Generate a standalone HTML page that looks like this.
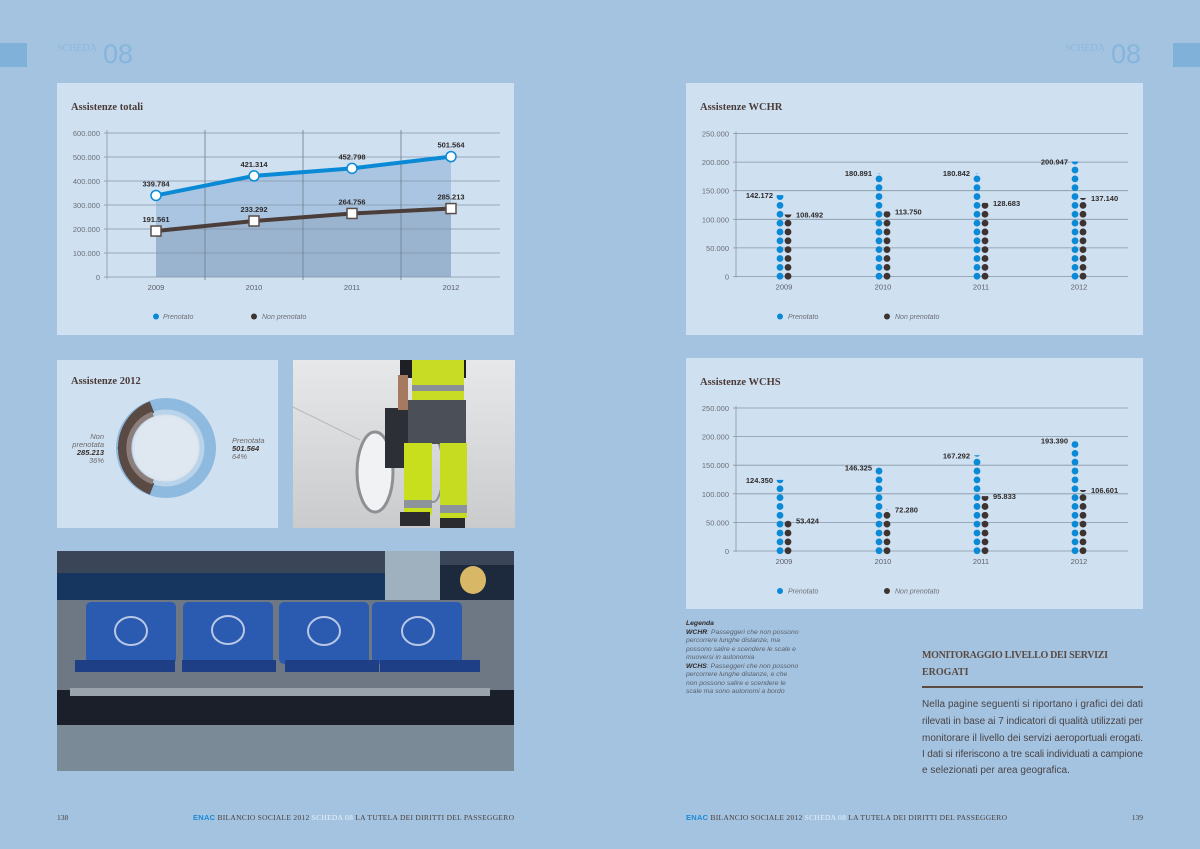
<!DOCTYPE html>
<html><head><meta charset="utf-8">
<style>
html,body{margin:0;padding:0;background:#a3c3e1;}
svg{display:block;}
text{font-family:"Liberation Sans",sans-serif;}
text.ser,.ser text,.ser tspan{font-family:"Liberation Serif",serif;}
tspan.sans{font-family:"Liberation Sans",sans-serif;}
</style></head>
<body>
<svg id="s" width="1200" height="849" viewBox="0 0 1200 849" xmlns="http://www.w3.org/2000/svg">
<rect width="1200" height="849" fill="#a3c3e1"/>
<!-- headers -->
<rect x="0" y="43" width="27" height="24" fill="#80b1d9"/>
<rect x="1173" y="43" width="27" height="24" fill="#80b1d9"/>
<text x="57" y="51" class="ser" font-size="10" fill="#8db7db">SCHEDA</text>
<text x="103" y="63" font-size="27" fill="#86b5dc">08</text>
<text x="1065" y="51" class="ser" font-size="10" fill="#8db7db">SCHEDA</text>
<text x="1111" y="63" font-size="27" fill="#86b5dc">08</text>

<!-- Panel 1 -->
<rect x="57" y="83" width="457" height="252" fill="#cfe0f1"/>
<text x="71" y="110" class="ser" font-size="10.5" font-weight="bold" fill="#4a3c38">Assistenze totali</text>
<g id="c1"></g>

<!-- WCHR -->
<rect x="686" y="83" width="457" height="252" fill="#cfe0f1"/>
<text x="700" y="110" class="ser" font-size="10.5" font-weight="bold" fill="#4a3c38">Assistenze WCHR</text>
<g id="c2"></g>
<!-- WCHS -->
<rect x="686" y="358" width="457" height="251" fill="#cfe0f1"/>
<text x="700" y="385" class="ser" font-size="10.5" font-weight="bold" fill="#4a3c38">Assistenze WCHS</text>
<g id="c3"></g>

<!-- Donut -->
<rect x="57" y="360" width="221" height="168" fill="#cfe0f1"/>
<text x="71" y="384" class="ser" font-size="10.5" font-weight="bold" fill="#4a3c38">Assistenze 2012</text>
<defs>
<radialGradient id="dg" cx="50%" cy="50%" r="50%">
<stop offset="0.7" stop-color="#dfe8f1"/><stop offset="1" stop-color="#b9cbdc"/>
</radialGradient>
</defs>
<circle cx="166" cy="448" r="44" fill="url(#dg)"/>
<circle cx="166" cy="448" r="44" fill="none" stroke="#8fbadf" stroke-width="12"/>
<circle cx="166" cy="448" r="36" fill="none" stroke="#b9d3ea" stroke-width="5"/>
<path d="M152 407 A44 44 0 0 0 152 489" fill="none" stroke="#5a4a44" stroke-width="12"/>
<path d="M153 414 A36 36 0 0 0 153 482" fill="none" stroke="#8c7f7b" stroke-width="5"/>
<polygon points="117,448 122,444 122,452" fill="#5a4a44"/>
<polygon points="215,448 210,444 210,452" fill="#8fbadf"/>
<g font-size="7.5" font-style="italic" fill="#6e6a6a" text-anchor="end">
<text x="104" y="439">Non</text><text x="104" y="447">prenotata</text>
<text x="104" y="455" font-weight="bold" fill="#3a302c">285.213</text><text x="104" y="463">36%</text>
</g>
<g font-size="7.5" font-style="italic" fill="#6e6a6a">
<text x="232" y="443">Prenotata</text>
<text x="232" y="451" font-weight="bold" fill="#3a302c">501.564</text><text x="232" y="459">64%</text>
</g>

<!-- Photo 1: worker -->
<defs>
<linearGradient id="fl" x1="0" y1="0" x2="0" y2="1"><stop offset="0" stop-color="#e6e8ea"/><stop offset="1" stop-color="#c9cbcc"/></linearGradient>
</defs>
<rect x="293" y="360" width="222" height="168" fill="url(#fl)"/>
<line x1="293" y1="407" x2="360" y2="440" stroke="#b8babb" stroke-width="1"/>
<ellipse cx="375" cy="472" rx="18" ry="40" fill="#f1f2f4" stroke="#8d9094" stroke-width="3"/>
<ellipse cx="433" cy="470" rx="10" ry="32" fill="none" stroke="#8d9094" stroke-width="2"/>
<rect x="385" y="408" width="35" height="60" fill="#2c2f36"/>
<rect x="400" y="360" width="66" height="18" fill="#1d1f25"/>
<rect x="412" y="360" width="52" height="42" fill="#c8dc25"/>
<rect x="412" y="385" width="52" height="6" fill="#8a9096"/>
<rect x="408" y="400" width="58" height="44" fill="#4b4f58"/>
<rect x="404" y="443" width="28" height="72" fill="#c8df1d"/>
<rect x="440" y="443" width="27" height="75" fill="#c6dc20"/>
<rect x="404" y="500" width="28" height="8" fill="#8c939a"/>
<rect x="440" y="505" width="27" height="8" fill="#8c939a"/>
<rect x="400" y="512" width="30" height="14" fill="#2a2c30"/>
<rect x="440" y="518" width="25" height="10" fill="#2a2c30"/>
<rect x="398" y="375" width="10" height="35" fill="#a57a5e"/>

<!-- Photo 2: seats -->
<rect x="57" y="551" width="457" height="220" fill="#24344a"/>
<rect x="57" y="551" width="457" height="22" fill="#3a4658"/>
<rect x="57" y="573" width="330" height="30" fill="#163660"/>
<rect x="385" y="551" width="55" height="70" fill="#9fb0bf"/>
<rect x="440" y="565" width="74" height="40" fill="#1d2a3e"/>
<ellipse cx="473" cy="580" rx="13" ry="14" fill="#d8b766"/>
<rect x="57" y="600" width="457" height="100" fill="#6e7884"/>
<rect x="57" y="690" width="457" height="35" fill="#1a1f2a"/>
<rect x="57" y="725" width="457" height="46" fill="#7a8a96"/>
<g fill="#2a5bb0">
<rect x="86" y="602" width="90" height="62" rx="5"/>
<rect x="183" y="602" width="90" height="62" rx="5"/>
<rect x="279" y="602" width="90" height="62" rx="5"/>
<rect x="372" y="602" width="90" height="62" rx="5"/>
</g>
<g fill="#1e3f86">
<rect x="75" y="660" width="100" height="12"/><rect x="182" y="660" width="94" height="12"/>
<rect x="285" y="660" width="94" height="12"/><rect x="380" y="660" width="100" height="12"/>
</g>
<g fill="none" stroke="#b9c7e6" stroke-width="2">
<ellipse cx="131" cy="631" rx="16" ry="14"/><ellipse cx="228" cy="630" rx="16" ry="14"/>
<ellipse cx="324" cy="631" rx="16" ry="14"/><ellipse cx="418" cy="631" rx="16" ry="14"/>
</g>
<rect x="70" y="688" width="420" height="8" fill="#9aa3ac"/>

<!-- Legenda -->
<g font-size="6.8" font-style="italic" fill="#5b5f66">
<text x="686" y="625" font-weight="bold" fill="#2f2926">Legenda</text>
<text x="686" y="634"><tspan font-weight="bold" fill="#2f2926">WCHR</tspan>: Passeggeri che non possono</text>
<text x="686" y="642">percorrere lunghe distanze, ma</text>
<text x="686" y="651">possono salire e scendere le scale e</text>
<text x="686" y="659">muoversi in autonomia</text>
<text x="686" y="668"><tspan font-weight="bold" fill="#2f2926">WCHS</tspan>: Passeggeri che non possono</text>
<text x="686" y="676">percorrere lunghe distanze, e che</text>
<text x="686" y="685">non possono salire e scendere le</text>
<text x="686" y="693">scale ma sono autonomi a bordo</text>
</g>

<!-- Text block -->
<text x="922" y="658" class="ser" font-size="10" font-weight="bold" fill="#5a4a42" textLength="186">MONITORAGGIO LIVELLO DEI SERVIZI</text>
<text x="922" y="675" class="ser" font-size="10" font-weight="bold" fill="#5a4a42">EROGATI</text>
<rect x="922" y="686" width="221" height="2" fill="#5a4a42"/>
<g font-size="10" fill="#4a4446">
<text x="922" y="707" textLength="221">Nella pagine seguenti si riportano i grafici dei dati</text>
<text x="922" y="724" textLength="221">rilevati in base ai 7 indicatori di qualità utilizzati per</text>
<text x="922" y="741" textLength="221">monitorare il livello dei servizi aeroportuali erogati.</text>
<text x="922" y="757" textLength="221">I dati si riferiscono a tre scali individuati a campione</text>
<text x="922" y="773">e selezionati per area geografica.</text>
</g>

<!-- Footers -->
<g class="ser" font-size="7.5" fill="#4a3f3a">
<text x="57" y="820">138</text>
<text x="1143" y="820" text-anchor="end">139</text>
<text x="193" y="820" textLength="321"><tspan class="sans" fill="#1a8ad6" font-weight="bold">ENAC</tspan> BILANCIO SOCIALE 2012 <tspan fill="#e8f1fa">SCHEDA 08</tspan> LA TUTELA DEI DIRITTI DEL PASSEGGERO</text>
<text x="686" y="820" textLength="321"><tspan class="sans" fill="#1a8ad6" font-weight="bold">ENAC</tspan> BILANCIO SOCIALE 2012 <tspan fill="#e8f1fa">SCHEDA 08</tspan> LA TUTELA DEI DIRITTI DEL PASSEGGERO</text>
</g>
</svg>
<script>
var NS="http://www.w3.org/2000/svg";
function el(p,t,a,txt){var e=document.createElementNS(NS,t);for(var k in a)e.setAttribute(k,a[k]);if(txt!==undefined)e.textContent=txt;p.appendChild(e);return e;}
function fmt(n){return n.toString().replace(/\B(?=(\d{3})+(?!\d))/g,".");}
var blue="#0a8ad6",dark="#3d3331";
(function(){
var g=document.getElementById("c1");
var y0=277,sc=0.00024,xs=[156,254,352,451],yrs=["2009","2010","2011","2012"];
var P=[339784,421314,452798,501564],N=[191561,233292,264756,285213];
function Y(v){return y0-v*sc;}
var pa="M156,"+y0;P.forEach(function(v,i){pa+=" L"+xs[i]+","+Y(v);});pa+=" L451,"+y0+" Z";
el(g,"path",{d:pa,fill:"#a9c5e2"});
var pn="M156,"+y0;N.forEach(function(v,i){pn+=" L"+xs[i]+","+Y(v);});pn+=" L451,"+y0+" Z";
el(g,"path",{d:pn,fill:"#9ab4cf"});
for(var i=0;i<=6;i++){var y=Y(i*100000);el(g,"line",{x1:104,x2:500,y1:y,y2:y,stroke:"#8696a6","stroke-width":0.8});
el(g,"text",{x:100,y:y+3,"font-size":7.5,fill:"#6b6f76","text-anchor":"end"},fmt(i*100000));}
el(g,"line",{x1:107,x2:107,y1:130,y2:279,stroke:"#8696a6","stroke-width":0.8});
[205,303,401].forEach(function(x){el(g,"line",{x1:x,x2:x,y1:130,y2:280,stroke:"#6f7d8b","stroke-width":0.8});});
var lp="",ln="";
P.forEach(function(v,i){lp+=(i?"L":"M")+xs[i]+","+Y(v);});
N.forEach(function(v,i){ln+=(i?"L":"M")+xs[i]+","+Y(v);});
el(g,"path",{d:lp,fill:"none",stroke:blue,"stroke-width":4});
el(g,"path",{d:ln,fill:"none",stroke:"#4b3d39","stroke-width":4});
xs.forEach(function(x,i){
el(g,"circle",{cx:x,cy:Y(P[i]),r:5,fill:"#fff",stroke:blue,"stroke-width":1.5});
el(g,"rect",{x:x-5,y:Y(N[i])-5,width:10,height:10,fill:"#fff",stroke:"#5a4d48","stroke-width":1.5});
el(g,"text",{x:x,y:Y(P[i])-9,"font-size":7.5,"font-weight":"bold",fill:"#2e2a2a","text-anchor":"middle"},fmt(P[i]));
el(g,"text",{x:x,y:Y(N[i])-9,"font-size":7.5,"font-weight":"bold",fill:"#2e2a2a","text-anchor":"middle"},fmt(N[i]));
el(g,"text",{x:x,y:290,"font-size":7.5,fill:"#5b5f66","text-anchor":"middle"},yrs[i]);
});
el(g,"circle",{cx:156,cy:316.5,r:3,fill:blue});
el(g,"text",{x:163,y:319,"font-size":7,"font-style":"italic",fill:"#6b6f76"},"Prenotato");
el(g,"circle",{cx:254,cy:316.5,r:3,fill:dark});
el(g,"text",{x:262,y:319,"font-size":7,"font-style":"italic",fill:"#6b6f76"},"Non prenotato");
})();
function dots(id,top,P,N){
var g=document.getElementById(id);
var y0=top+143,sc=143/250000,xs=[780,879,977,1075],yrs=["2009","2010","2011","2012"];
function Y(v){return y0-v*sc;}
for(var i=0;i<=5;i++){var y=Y(i*50000);el(g,"line",{x1:733,x2:1128,y1:y,y2:y,stroke:"#8696a6","stroke-width":0.8});
el(g,"text",{x:729,y:y+3,"font-size":7.5,fill:"#6b6f76","text-anchor":"end"},fmt(i*50000));}
el(g,"line",{x1:736,x2:736,y1:top-2,y2:y0+1,stroke:"#8696a6","stroke-width":0.8});
xs.forEach(function(x,k){
[[x,P[k],blue],[x+8,N[k],dark]].forEach(function(s,j){
var cid=id+"c"+k+"_"+j;
var cp=el(g,"clipPath",{id:cid});el(cp,"rect",{x:s[0]-5,y:Y(s[1]),width:10,height:y0-Y(s[1])+5});
var gg=el(g,"g",{"clip-path":"url(#"+cid+")"});
for(var d=0;d*8.85<=s[1]*sc+4;d++){el(gg,"circle",{cx:s[0],cy:y0-0.3-d*8.85,r:3.4,fill:s[2]});}
});
el(g,"text",{x:x-7,y:Y(P[k])+3,"font-size":7.5,"font-weight":"bold",fill:"#2e2a2a","text-anchor":"end"},fmt(P[k]));
el(g,"text",{x:x+16,y:Y(N[k])+3,"font-size":7.5,"font-weight":"bold",fill:"#2e2a2a"},fmt(N[k]));
el(g,"text",{x:x+4,y:y0+13,"font-size":7.5,fill:"#5b5f66","text-anchor":"middle"},yrs[k]);
});
var ly=y0+40;
el(g,"circle",{cx:780,cy:ly,r:3,fill:blue});
el(g,"text",{x:788,y:ly+2.5,"font-size":7,"font-style":"italic",fill:"#6b6f76"},"Prenotato");
el(g,"circle",{cx:887,cy:ly,r:3,fill:dark});
el(g,"text",{x:895,y:ly+2.5,"font-size":7,"font-style":"italic",fill:"#6b6f76"},"Non prenotato");
}
dots("c2",133.5,[142172,180891,180842,200947],[108492,113750,128683,137140]);
dots("c3",408,[124350,146325,167292,193390],[53424,72280,95833,106601]);
</script>
</body></html>
